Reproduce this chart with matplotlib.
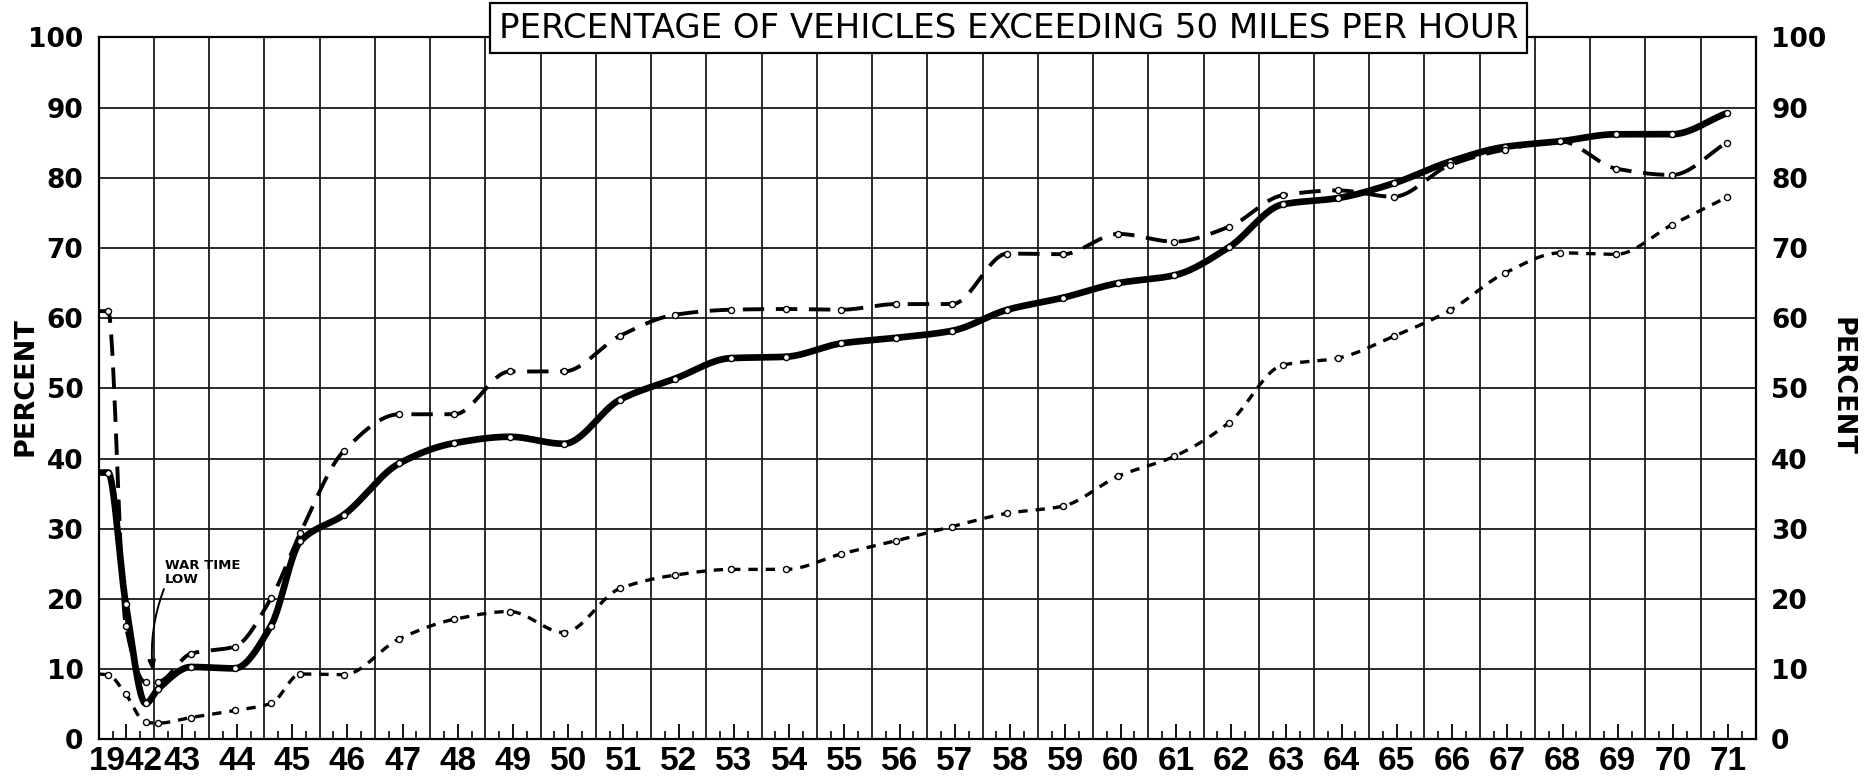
import numpy as np
import matplotlib
matplotlib.use("Agg")
import matplotlib.pyplot as plt

# ---------------- data ----------------
# survey dates (fractional years); the first entry is the left edge where the curves begin
survey_dates = [1942.0, 1942.17, 1942.49, 1942.85, 1943.08, 1943.67, 1944.46, 1945.12, 1945.65,
                1946.44, 1947.44, 1948.44, 1949.44, 1950.42, 1951.44, 1952.44, 1953.44, 1954.44,
                1955.44, 1956.44, 1957.45, 1958.45, 1959.45, 1960.46, 1961.47, 1962.46, 1963.43,
                1964.43, 1965.44, 1966.46, 1967.45, 1968.46, 1969.47, 1970.48, 1971.47]

solid_series = [38, 38, 19.3, 5.1, 7.2, 10.3, 10.1, 16.2, 28.2,
                32.0, 39.3, 42.2, 43.1, 42.1, 48.4, 51.4, 54.3, 54.5,
                56.4, 57.2, 58.2, 61.2, 62.9, 65.0, 66.1, 70.1, 76.2,
                77.1, 79.2, 82.3, 84.4, 85.2, 86.2, 86.2, 89.2]

long_dash_series = [61, 61, 16.2, 8.1, 8.2, 12.2, 13.2, 20.1, 29.4,
                    41.1, 46.3, 46.3, 52.4, 52.4, 57.5, 60.5, 61.2, 61.3,
                    61.2, 62.0, 62.0, 69.2, 69.1, 72.0, 70.9, 73.0, 77.5,
                    78.2, 77.3, 81.8, 84.0, 85.2, 81.3, 80.4, 85.0]

short_dash_series = [9.3, 9.2, 6.4, 2.4, 2.3, 3.1, 4.1, 5.1, 9.3,
                     9.2, 14.3, 17.1, 18.2, 15.2, 21.5, 23.4, 24.2, 24.2,
                     26.4, 28.3, 30.3, 32.2, 33.2, 37.5, 40.3, 45.1, 53.3,
                     54.3, 57.4, 61.1, 66.4, 69.3, 69.1, 73.3, 77.2]

years = list(range(1942, 1972))
year_labels = ["1942"] + [f"{y % 100:02d}" for y in years[1:]]
y_ticks = list(range(0, 101, 10))
title = "PERCENTAGE OF VEHICLES EXCEEDING 50 MILES PER HOUR"
axis_label = "PERCENT"
annotation = "WAR TIME\nLOW"
annotation_target = (1942.98, 9.6)
annotation_text_pos = (1943.2, 21.8)


# ---------------- smooth curve helper (monotone cubic Hermite) ----------------
def pchip(x, y, xs):
    x = np.asarray(x, float)
    y = np.asarray(y, float)
    h = np.diff(x)
    delta = np.diff(y) / h
    n = len(x)
    d = np.zeros(n)
    for k in range(1, n - 1):
        if delta[k - 1] * delta[k] > 0:
            w1 = 2 * h[k] + h[k - 1]
            w2 = h[k] + 2 * h[k - 1]
            d[k] = (w1 + w2) / (w1 / delta[k - 1] + w2 / delta[k])
    d[0] = delta[0]
    d[-1] = delta[-1]
    idx = np.clip(np.searchsorted(x, xs) - 1, 0, n - 2)
    t = (xs - x[idx]) / h[idx]
    h00 = 2 * t**3 - 3 * t**2 + 1
    h10 = t**3 - 2 * t**2 + t
    h01 = -2 * t**3 + 3 * t**2
    h11 = t**3 - t**2
    return (h00 * y[idx] + h10 * h[idx] * d[idx] + h01 * y[idx + 1] + h11 * h[idx] * d[idx + 1])


plt.rcParams['font.family'] = ['DejaVu Sans']

fig = plt.figure(figsize=(18.66, 7.79), dpi=100)
ax = fig.add_axes([0.0529, 0.051, 0.8881, 0.901])

ax.set_xlim(1942, 1972)
ax.set_ylim(0, 100)

# grid
ax.vlines(years[1:], 0, 100, color="#1a1a1a", lw=1.3, zorder=1)
for yv in y_ticks[1:-1]:
    ax.axhline(yv, color="#1a1a1a", lw=1.3, zorder=1)

xs = np.linspace(survey_dates[0], survey_dates[-1], 3000)
series = [
    (solid_series, dict(lw=4.8, ls="-")),
    (long_dash_series, dict(lw=2.8, ls=(0, (5.5, 3.0)))),
    (short_dash_series, dict(lw=2.4, ls=(0, (2.8, 2.4)))),
]
for vals, style in series:
    ax.plot(xs, pchip(survey_dates, vals, xs), color="black", zorder=3,
            solid_capstyle="butt", dash_capstyle="butt", **style)
    ax.plot(survey_dates[1:], vals[1:], ls="none", marker="o", ms=4.4,
            mfc="white", mec="black", mew=1.0, zorder=4)

# ticks
ax.set_xticks([y + 0.5 for y in years])
ax.set_xticklabels(year_labels, fontweight="bold", family=["Liberation Sans", "DejaVu Sans"])
ax.set_xticks([y + q for y in years for q in (0.25, 0.75)], minor=True)
ax.tick_params(axis="x", which="major", direction="in", length=11, width=1.3,
               labelsize=24, pad=5, top=False)
ax.tick_params(axis="x", which="minor", direction="in", length=6, width=1.2, top=False)

ax.set_yticks(y_ticks)
ax.set_yticklabels([str(v) for v in y_ticks])
ax.tick_params(axis="y", which="both", length=0, labelsize=19, pad=11,
               labelleft=True, labelright=True)
for t in ax.yaxis.get_major_ticks():
    t.label1.set_fontweight("bold")
    t.label2.set_fontweight("bold")

for s in ax.spines.values():
    s.set_linewidth(1.6)
    s.set_color("black")

fig.text(0.0135, 0.504, axis_label, fontsize=19.5, fontweight="bold", rotation=90,
         ha="center", va="center")
fig.text(0.987, 0.504, axis_label, fontsize=19.5, fontweight="bold", rotation=-90,
         ha="center", va="center")

# annotation
ax.annotate(annotation, xy=annotation_target, xytext=annotation_text_pos,
            fontsize=9.5, fontweight="bold", ha="left", va="bottom", zorder=6,
            linespacing=1.1,
            arrowprops=dict(arrowstyle="-|>,head_length=0.7,head_width=0.25", color="black",
                            lw=1.4, connectionstyle="arc3,rad=0.12",
                            shrinkA=0, shrinkB=0,
                            relpos=(0.0, 0.0)))

fig.text(0.5405, 0.964, title, fontsize=24.5, ha="center", va="center", zorder=10,
         bbox=dict(boxstyle="square,pad=0.25", fc="white", ec="black", lw=1.6))

fig.savefig("out.png", dpi=100, facecolor="white")
